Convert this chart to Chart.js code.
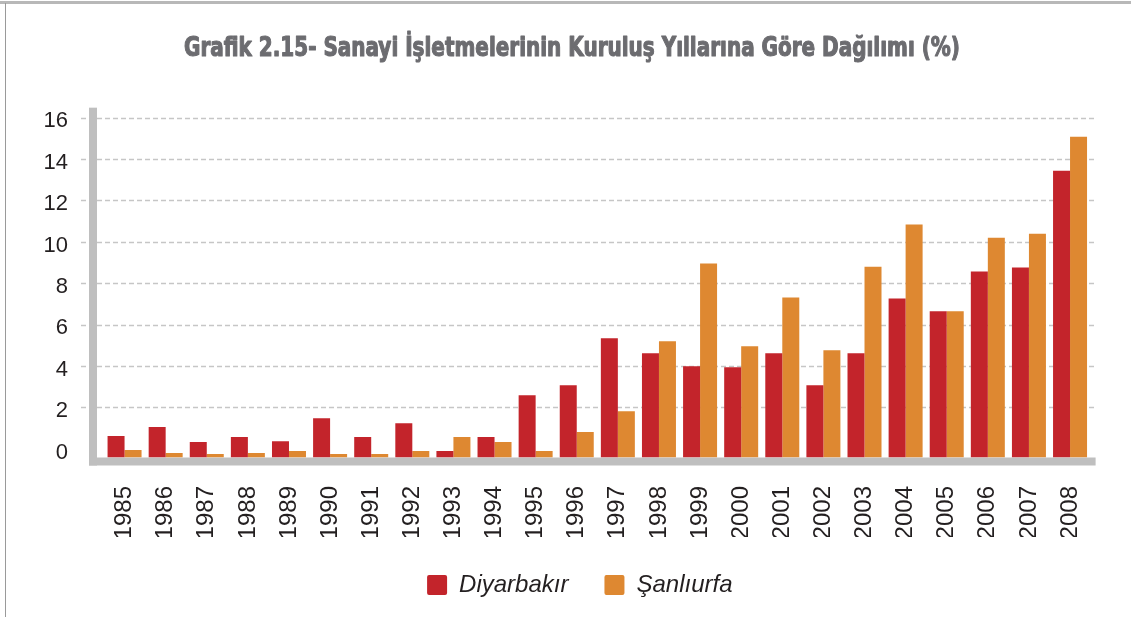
<!DOCTYPE html>
<html>
<head>
<meta charset="utf-8">
<script src="https://cdn.jsdelivr.net/npm/chart.js@4"></script>
<style>
  html, body { margin: 0; padding: 0; background: #ffffff; }
  #wrap { width: 1131px; height: 617px; position: relative; }
</style>
</head>
<body>
<div id="wrap"><canvas id="c" width="1131" height="617"></canvas></div>
<script>
const titleText = 'Grafik 2.15- Sanayi İşletmelerinin Kuruluş Yıllarına Göre Dağılımı (%)';
const years = ['1985','1986','1987','1988','1989','1990','1991','1992','1993','1994','1995','1996',
               '1997','1998','1999','2000','2001','2002','2003','2004','2005','2006','2007','2008'];
const diyarbakir = [1.04, 1.47, 0.75, 0.99, 0.79, 1.90, 0.99, 1.66, 0.31, 0.99, 3.01, 3.49,
                    5.76, 5.03, 4.41, 4.36, 5.03, 3.49, 5.03, 7.68, 7.06, 8.98, 9.18, 13.85];
const sanliurfa = [0.36, 0.22, 0.17, 0.22, 0.31, 0.17, 0.17, 0.31, 0.99, 0.75, 0.31, 1.23,
                   2.24, 5.61, 9.37, 5.37, 7.73, 5.18, 9.22, 11.25, 7.06, 10.62, 10.81, 15.49];
const seriesNames = ['Diyarbakır', 'Şanlıurfa'];
const yTicks = [0, 2, 4, 6, 8, 10, 12, 14, 16];

const RED = '#c3242b';
const ORANGE = '#de8831';
const GREY = '#bfbfbf';
const DEPTH = 8.6;
const LEGEND_SHIFT = 34.5;

const decor = {
  id: 'decor',
  afterLayout(chart) {
    const lg = chart.legend;
    if (lg) { lg.left += LEGEND_SHIFT; lg.right += LEGEND_SHIFT; }
  },
  beforeDraw(chart) {
    const ctx = chart.ctx;
    ctx.save();
    ctx.fillStyle = '#ffffff';
    ctx.fillRect(0, 0, chart.width, chart.height);
    // frame
    ctx.fillStyle = '#b8b8b8';
    ctx.fillRect(0, 1, chart.width, 3);
    ctx.fillStyle = '#9a9a9a';
    ctx.fillRect(5, 3, 1, chart.height - 3);
    // title
    ctx.fillStyle = '#6c6c70';
    ctx.strokeStyle = '#6c6c70';
    ctx.lineWidth = 1.1;
    ctx.lineJoin = 'round';
    ctx.font = 'bold 26px "DejaVu Sans Condensed", "DejaVu Sans", sans-serif';
    ctx.textAlign = 'left';
    ctx.textBaseline = 'alphabetic';
    ctx.fillText(titleText, 184, 56, 776);
    ctx.strokeText(titleText, 184, 56, 776);
    ctx.restore();
  },
  beforeDatasetsDraw(chart) {
    const ctx = chart.ctx;
    const a = chart.chartArea;
    const ys = chart.scales.y;
    ctx.save();
    // back-wall grid lines
    ctx.strokeStyle = '#c6c6c6';
    ctx.lineWidth = 1.5;
    ctx.setLineDash([5, 3]);
    yTicks.forEach(v => {
      if (v === 0) return;
      const y = Math.round(ys.getPixelForValue(v) - DEPTH) + 0.5;
      ctx.beginPath();
      ctx.moveTo(a.left - 23, y);
      ctx.lineTo(a.right + 5, y);
      ctx.stroke();
    });
    ctx.setLineDash([]);
    // wall and floor
    ctx.fillStyle = GREY;
    const wallTop = ys.getPixelForValue(16) - 18.6;
    ctx.fillRect(a.left - 15, wallTop, 8, a.bottom + 8 - wallTop);
    ctx.fillRect(a.left - 15, a.bottom, a.right + 5 - (a.left - 15), 8);
    ctx.restore();
  }
};

new Chart(document.getElementById('c'), {
  type: 'bar',
  data: {
    labels: years,
    datasets: [
      { label: seriesNames[0], data: diyarbakir, backgroundColor: RED, borderWidth: 0 },
      { label: seriesNames[1], data: sanliurfa, backgroundColor: ORANGE, borderWidth: 0 }
    ]
  },
  options: {
    responsive: false,
    animation: false,
    devicePixelRatio: 1,
    layout: { padding: { top: 118, left: 0, right: 40.4, bottom: 10 } },
    datasets: { bar: { categoryPercentage: 0.827, barPercentage: 1.0 } },
    scales: {
      x: {
        grid: { display: false, drawTicks: false },
        border: { display: false },
        ticks: {
          minRotation: 90, maxRotation: 90, autoSkip: false,
          padding: 28.5,
          color: '#231f20',
          font: { family: '"Liberation Sans", Arial, sans-serif', size: 24 }
        },
        afterFit(s) { s.height = 79.5; }
      },
      y: {
        min: 0, max: 16.4,
        grid: { display: false, drawTicks: false },
        border: { display: false },
        afterBuildTicks(s) { s.ticks = yTicks.map(v => ({ value: v })); },
        ticks: {
          padding: 36,
          labelOffset: -5,
          color: '#231f20',
          font: { family: '"Liberation Sans", Arial, sans-serif', size: 22 }
        },
        afterFit(s) { s.width = 104; }
      }
    },
    plugins: {
      title: { display: false },
      tooltip: { enabled: false },
      legend: {
        position: 'bottom',
        labels: {
          boxWidth: 20, boxHeight: 20, padding: 36,
          useBorderRadius: true, borderRadius: 2,
          color: '#231f20',
          font: { family: '"Liberation Sans", Arial, sans-serif', size: 24, style: 'italic' }
        }
      }
    }
  },
  plugins: [decor]
});
</script>
</body>
</html>
